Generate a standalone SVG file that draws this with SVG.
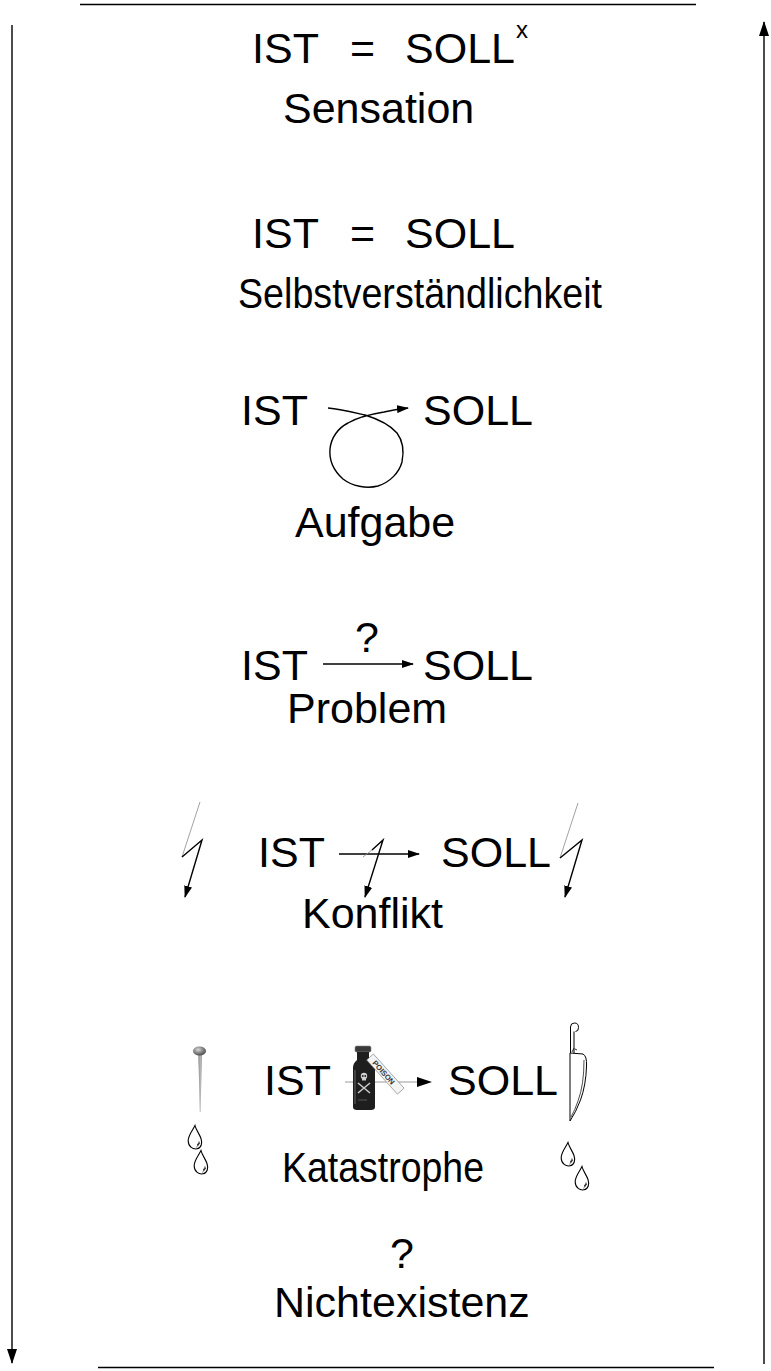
<svg xmlns="http://www.w3.org/2000/svg" width="771" height="1371" viewBox="0 0 771 1371">
  <style>
    .t { font-family: "Liberation Sans", Arial, Helvetica, sans-serif; font-size: 43px; fill: #000; }
    .sup { font-family: "Liberation Sans", Arial, Helvetica, sans-serif; font-size: 24px; fill: #000; }
    .ln { stroke: #000; stroke-width: 1.4; fill: none; }
    .thin { stroke: #8a8a8a; stroke-width: 0.8; fill: none; }
    .drop { stroke: #000; stroke-width: 1.1; fill: #fff; }
    .hl { stroke: #000; stroke-width: 0.9; fill: none; }
  </style>
  <defs>
    <marker id="ah" viewBox="0 0 12 8" refX="11" refY="4" markerWidth="12" markerHeight="8" orient="auto" markerUnits="userSpaceOnUse">
      <path d="M0,0 L12,4 L0,8 Z" fill="#000"/>
    </marker>
    <marker id="big" viewBox="0 0 15 10" refX="14" refY="5" markerWidth="15" markerHeight="10" orient="auto" markerUnits="userSpaceOnUse">
      <path d="M0,0 L15,5 L0,10 Z" fill="#000"/>
    </marker>
    <symbol id="tear" viewBox="0 0 16 25" width="16" height="25" overflow="visible">
      <path class="drop" d="M8,0.5 C6,5 1,10 1.2,16 C1.4,22 6,24.5 10,23.8 C14.5,23 15.5,18 14,13.5 C12.5,9 9,5 8,0.5 Z"/>
      <path class="hl" d="M9.5,22 C11,20.5 12.5,19.5 12,16.5 M10,19.5 L12.5,18.5"/>
    </symbol>
    <radialGradient id="pinhead" cx="0.4" cy="0.35" r="0.7">
      <stop offset="0" stop-color="#d8d8d8"/>
      <stop offset="0.6" stop-color="#7a7a7a"/>
      <stop offset="1" stop-color="#444"/>
    </radialGradient>
    <linearGradient id="shaft" x1="0" y1="0" x2="1" y2="0">
      <stop offset="0" stop-color="#666"/>
      <stop offset="0.5" stop-color="#c8c8c8"/>
      <stop offset="1" stop-color="#777"/>
    </linearGradient>
  </defs>

  <!-- frame rules -->
  <g id="frame">
    <line x1="80" y1="4.5" x2="696" y2="4.5" stroke="#000" stroke-width="1.3"/>
    <line x1="98" y1="1367.5" x2="714" y2="1367.5" stroke="#000" stroke-width="1.3"/>
  </g>

  <!-- connectors -->
  <g id="connectors">
    <!-- scale arrows: down on the left, up on the right -->
    <line class="ln" x1="12" y1="25" x2="12" y2="1363" marker-end="url(#big)"/>
    <line class="ln" x1="764" y1="1364" x2="764" y2="22" marker-end="url(#big)"/>
    <!-- Aufgabe: looping arrow -->
    <path class="ln" stroke-width="1.2" d="M328,408 C340,409 352,412 365,415 C378,419 390,425 397,433 C403,441 404,452 402,462 C399,473 390,482 378,486 C366,489 352,486 343,479 C334,471 329,460 330,449 C331,438 338,428 348,423 C358,417 372,414 384,412 C392,410 398,409 408,408" marker-end="url(#ah)"/>
    <!-- Problem -->
    <line class="ln" x1="323" y1="664" x2="413" y2="664" marker-end="url(#ah)"/>
    <!-- Konflikt -->
    <line class="ln" x1="339" y1="854" x2="419" y2="854" marker-end="url(#ah)"/>
    <!-- Katastrophe -->
    <line x1="345" y1="1082" x2="420" y2="1082" stroke="#9a9a9a" stroke-width="1"/>
    <path d="M417,1077 L432,1082 L417,1087 Z" fill="#000"/>
  </g>

  <g id="sensation">
    <text class="t" x="252" y="63">IST</text>
    <text class="t" x="350" y="63">=</text>
    <text class="t" x="405" y="63">SOLL</text>
    <text class="sup" x="516" y="38">x</text>
    <text class="t" x="283" y="123">Sensation</text>
  </g>

  <g id="selbstverstaendlichkeit">
    <text class="t" x="252" y="248">IST</text>
    <text class="t" x="350" y="248">=</text>
    <text class="t" x="405" y="248">SOLL</text>
    <text class="t" x="238" y="308" textLength="364" lengthAdjust="spacingAndGlyphs">Selbstverständlichkeit</text>
  </g>

  <g id="aufgabe">
    <text class="t" x="241" y="425">IST</text>
    <text class="t" x="423" y="425">SOLL</text>
    <text class="t" x="295" y="537">Aufgabe</text>
  </g>

  <g id="problem">
    <text class="t" x="241" y="680">IST</text>
    <text class="t" x="355" y="652">?</text>
    <text class="t" x="423" y="680">SOLL</text>
    <text class="t" x="287" y="723">Problem</text>
  </g>

  <g id="konflikt">
    <text class="t" x="258" y="867">IST</text>
    <text class="t" x="441" y="867">SOLL</text>
    <text class="t" x="302" y="928">Konflikt</text>
    <!-- lightning strokes -->
    <path class="thin" d="M200,802 L182,857"/>
    <path class="ln" stroke-width="1.2" d="M182,857 L202,840 L185,897" marker-end="url(#ah)"/>
    <path class="thin" d="M363,857 L372,850"/>
    <path class="ln" stroke-width="1.2" d="M372,850 L383,840 L365,897" marker-end="url(#ah)"/>
    <path class="thin" d="M578,803 L560,858"/>
    <path class="ln" stroke-width="1.2" d="M560,858 L582,840 L565,897" marker-end="url(#ah)"/>
  </g>

  <g id="katastrophe">
    <text class="t" x="264" y="1095">IST</text>
    <text class="t" x="448" y="1095">SOLL</text>
    <text class="t" x="282" y="1182" textLength="202" lengthAdjust="spacingAndGlyphs">Katastrophe</text>

    <!-- pin -->
    <polygon points="198.4,1055 201.8,1055 200.6,1112 199.8,1112" fill="url(#shaft)"/>
    <ellipse cx="199.5" cy="1051" rx="6.5" ry="4.5" fill="url(#pinhead)"/>

    <!-- poison bottle -->
    <g id="bottle">
      <rect x="355" y="1046" width="16" height="6" rx="1.5" fill="#3a3a3a" stroke="#888" stroke-width="0.6"/>
      <path d="M357,1052 L369,1052 L369,1060 Q375,1063 375,1068 L375,1107 Q375,1110 371,1110 L357,1110 Q353,1110 353,1107 L353,1068 Q353,1063 357,1060 Z" fill="#1e1e1e"/>
      <path d="M355,1070 L355,1104" stroke="#5a5a5a" stroke-width="1.2"/>
      <!-- skull and bones -->
      <circle cx="364" cy="1076" r="3.2" fill="#d0d0d0"/>
      <rect x="362" y="1078" width="4" height="2.5" fill="#d0d0d0"/>
      <circle cx="362.8" cy="1076" r="0.9" fill="#1e1e1e"/>
      <circle cx="365.3" cy="1076" r="0.9" fill="#1e1e1e"/>
      <path d="M358,1083 L370,1093 M370,1083 L358,1093" stroke="#c8c8c8" stroke-width="1.6"/>
      <path d="M358,1100 L367,1100" stroke="#555" stroke-width="1"/>
      <!-- tag -->
      <g transform="translate(370,1057) rotate(48)">
        <rect x="0" y="-4.5" width="46" height="9" fill="#f4f4f4" stroke="#777" stroke-width="0.6"/>
        <text x="6" y="2.8" font-family="Liberation Sans, Arial, sans-serif" font-size="7.5" font-weight="bold" fill="#333">POISON</text>
      </g>
    </g>

    <!-- knife -->
    <g id="knife" fill="none" stroke="#000" stroke-width="1">
      <path d="M570.5,1053 L570.5,1027 Q570.5,1023 574.5,1023 Q578.5,1023 578.5,1027.5 Q578.5,1031.5 575.5,1031.5 M574,1031.5 L574,1053"/>
      <path d="M574,1048 L572,1052 M575,1049 L577,1050" stroke-width="0.8"/>
      <path d="M570,1053 L583,1054 Q587,1056 586.5,1066 Q586,1085 580.5,1100 Q576,1112 570,1121 Z" fill="#fff"/>
      <path d="M584,1060 Q584,1085 578,1101 Q575,1110 571,1117" stroke-width="0.7"/>
    </g>

    <!-- drops -->
    <use href="#tear" x="187" y="1125"/>
    <use href="#tear" x="193" y="1150"/>
    <use href="#tear" x="560" y="1142"/>
    <use href="#tear" x="574" y="1166"/>
  </g>

  <g id="nichtexistenz">
    <text class="t" x="390" y="1268">?</text>
    <text class="t" x="274" y="1317">Nichtexistenz</text>
  </g>
</svg>
